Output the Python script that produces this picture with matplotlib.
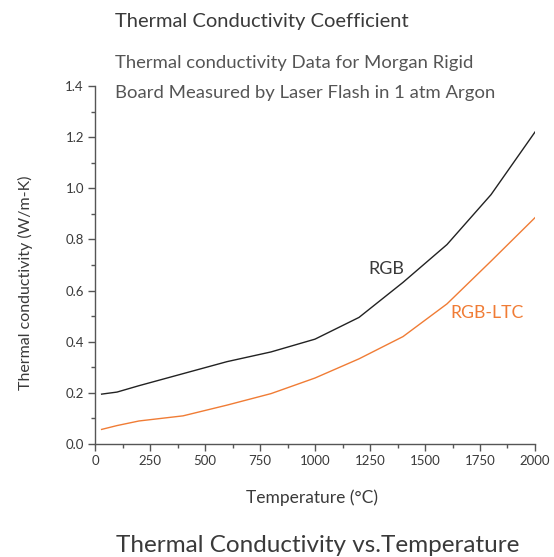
import matplotlib
matplotlib.use("Agg")
import matplotlib.pyplot as plt
from matplotlib.ticker import MultipleLocator

# values
temp_c = [30, 100, 200, 400, 600, 800, 1000, 1200, 1400, 1600, 1800, 2000]
rgb = [0.195, 0.203, 0.228, 0.275, 0.322, 0.36, 0.41, 0.495, 0.632, 0.78, 0.975, 1.22]
rgb_ltc = [0.057, 0.072, 0.09, 0.11, 0.152, 0.197, 0.258, 0.333, 0.42, 0.548, 0.715, 0.885]
x_ticks = [0, 250, 500, 750, 1000, 1250, 1500, 1750, 2000]
y_ticks = [0.0, 0.2, 0.4, 0.6, 0.8, 1.0, 1.2, 1.4]

TXT = "#3a3a3a"
ORANGE = "#f07c35"
plt.rcParams["font.family"] = ["Lato", "DejaVu Sans"]

fig = plt.figure(figsize=(5.54, 5.57), dpi=100)
ax = fig.add_axes([0.1715, 0.2029, 0.7942, 0.6427])

ax.plot(temp_c, rgb, color="#222222", lw=1.0)
ax.plot(temp_c, rgb_ltc, color=ORANGE, lw=1.0)

ax.set_xlim(0, 2000)
ax.set_ylim(0, 1.4)
ax.set_xticks(x_ticks)
ax.set_yticks(y_ticks)
ax.set_yticklabels([f"{v:.1f}" for v in y_ticks])
ax.xaxis.set_minor_locator(MultipleLocator(125))
ax.yaxis.set_minor_locator(MultipleLocator(0.1))

for s in ["top", "right"]:
    ax.spines[s].set_visible(False)
for s in ["left", "bottom"]:
    ax.spines[s].set_color("#555555")
    ax.spines[s].set_linewidth(1.0)
ax.tick_params(which="major", length=5, width=1, color="#555555",
               labelsize=9.5, labelcolor=TXT, pad=3)
ax.tick_params(which="minor", length=3, width=1, color="#555555")

# axis titles placed by pixel, as in the reference
fig.text(312 / 554, 1 - 498 / 557, "Temperature (°C)", fontsize=12.5,
         color=TXT, ha="center", va="center")
fig.text(25 / 554, 1 - 283 / 557, "Thermal conductivity (W/m-K)", fontsize=11.5,
         color=TXT, ha="center", va="center", rotation=90)

ax.text(1323, 0.686, "RGB", fontsize=13, color=TXT, ha="center", va="center")
ax.text(1782, 0.514, "RGB-LTC", fontsize=12.7, color=ORANGE, ha="center", va="center")

fig.text(115 / 554, 1 - 22 / 557, "Thermal Conductivity Coefficient",
         fontsize=14.5, color=TXT, ha="left", va="center")
fig.text(115 / 554, 1 - 63 / 557, "Thermal conductivity Data for Morgan Rigid",
         fontsize=13.3, color="#555555", ha="left", va="center")
fig.text(115 / 554, 1 - 93 / 557, "Board Measured by Laser Flash in 1 atm Argon",
         fontsize=13.3, color="#555555", ha="left", va="center")
fig.text(318 / 554, 1 - 545 / 557, "Thermal Conductivity vs.Temperature",
         fontsize=17.5, color=TXT, ha="center", va="center")

fig.savefig("out.png", dpi=100, facecolor="white")
